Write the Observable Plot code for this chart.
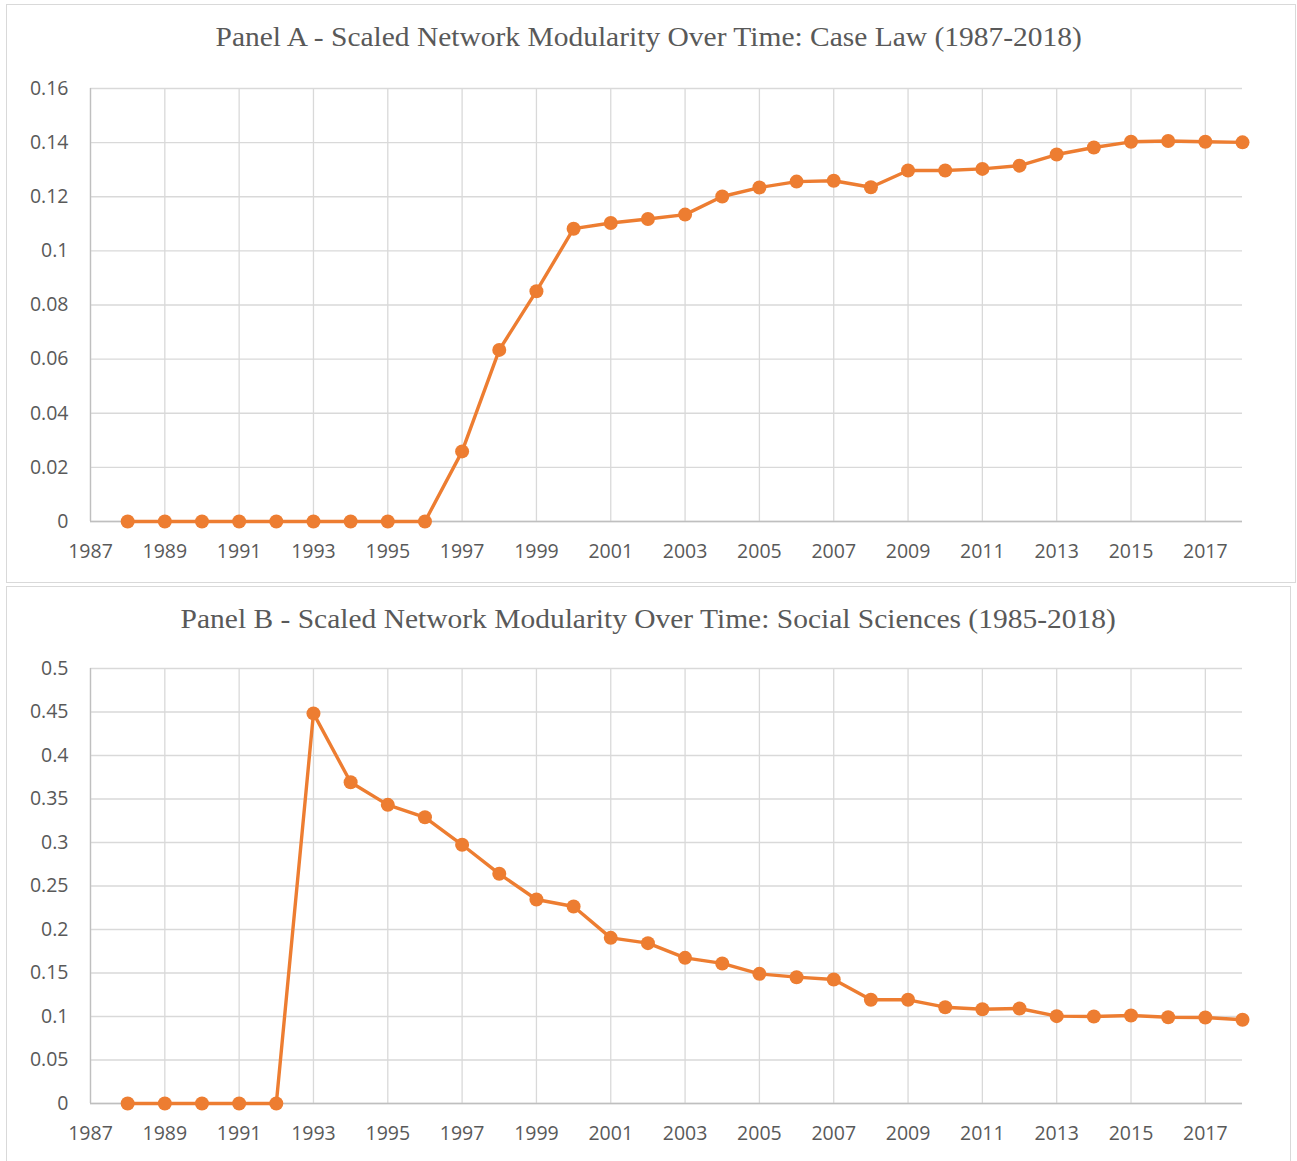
<!DOCTYPE html>
<html>
<head>
<meta charset="utf-8">
<script src="https://cdn.jsdelivr.net/npm/d3@7"></script>
<script src="https://cdn.jsdelivr.net/npm/@observablehq/plot@0.6"></script>
<style>
  body { margin: 0; background: #fff; }
  #root { position: relative; width: 1297px; height: 1161px; overflow: hidden; background: #fff; }
  .panel { position: absolute; border: 1.5px solid #d9d9d9; box-sizing: border-box; }
  .title { position: absolute; left: 0; width: 1297px; text-align: center; font-family: "Liberation Serif", "Times New Roman", serif; font-size: 27px; line-height: 27px; color: #595959; white-space: nowrap; }
  .title span { display: inline-block; transform: scaleX(1.092); transform-origin: center; }
  .chart { position: absolute; left: 0; }
</style>
</head>
<body>
<div id="root">
  <div class="panel" style="left:6px;top:4px;width:1290px;height:579px;"></div>
  <div class="panel" style="left:6px;top:586px;width:1285px;height:620px;"></div>
  <div class="title" style="top:24px;"><span>Panel A - Scaled Network Modularity Over Time: Case Law (1987-2018)</span></div>
  <div class="title" style="top:606px;"><span>Panel B - Scaled Network Modularity Over Time: Social Sciences (1985-2018)</span></div>
  <div class="chart" id="chartA" style="top:0px;"></div>
  <div class="chart" id="chartB" style="top:586px;"></div>
</div>
<script>
// ---- Data ----
const years = [1988, 1989, 1990, 1991, 1992, 1993, 1994, 1995, 1996, 1997, 1998, 1999, 2000, 2001, 2002, 2003, 2004, 2005, 2006, 2007, 2008, 2009, 2010, 2011, 2012, 2013, 2014, 2015, 2016, 2017, 2018];

const caseLaw = [0, 0, 0, 0, 0, 0, 0, 0, 0, 0.0259, 0.0634, 0.0851, 0.1082, 0.1103, 0.1118, 0.1134, 0.1201, 0.1234, 0.1256, 0.1259, 0.1235, 0.1297, 0.1297, 0.1303, 0.1315, 0.1356, 0.1382, 0.1403, 0.1406, 0.1403, 0.1401];

const socialSciences = [0, 0, 0, 0, 0, 0.4484, 0.3692, 0.3433, 0.329, 0.2974, 0.264, 0.2345, 0.2264, 0.1904, 0.1843, 0.1674, 0.161, 0.149, 0.1452, 0.1425, 0.1192, 0.1192, 0.1107, 0.1084, 0.1092, 0.1004, 0.1, 0.1011, 0.0992, 0.0989, 0.0962];

const xTickLabels = [1987, 1989, 1991, 1993, 1995, 1997, 1999, 2001, 2003, 2005, 2007, 2009, 2011, 2013, 2015, 2017];
const yTicksA = [0, 0.02, 0.04, 0.06, 0.08, 0.1, 0.12, 0.14, 0.16];
const yTicksB = [0, 0.05, 0.1, 0.15, 0.2, 0.25, 0.3, 0.35, 0.4, 0.45, 0.5];

const ORANGE = "#ED7D31";
const GRID = "#d9d9d9";
const AXIS = "#bfbfbf";
const TEXT = "#595959";

function makeChart(values, yTicks, yMax, opts) {
  const data = years.map((y, i) => ({year: y, value: values[i]}));
  return Plot.plot({
    width: 1297,
    height: opts.height,
    marginLeft: 90,
    marginRight: 55,
    marginTop: opts.marginTop,
    marginBottom: opts.marginBottom,
    style: {background: "transparent", color: TEXT, fontFamily: "'Open Sans', 'Liberation Sans', sans-serif", fontSize: "19.5px", overflow: "visible"},
    x: {type: "linear", domain: [1987, 2018]},
    y: {type: "linear", domain: [0, yMax]},
    marks: [
      Plot.gridX(xTickLabels, {stroke: GRID, strokeOpacity: 1, strokeWidth: 1.3}),
      Plot.gridY(yTicks, {stroke: GRID, strokeOpacity: 1, strokeWidth: 1.3}),
      Plot.ruleX([1987], {stroke: AXIS, strokeWidth: 1.3}),
      Plot.ruleY([0], {stroke: AXIS, strokeWidth: 1.5}),
      Plot.axisX(xTickLabels, {tickSize: 0, tickPadding: 23, tickFormat: d => String(d), label: null, fill: TEXT, fontSize: 19.5}),
      Plot.axisY(yTicks, {tickSize: 0, tickPadding: 22, tickFormat: d => String(d), label: null, fill: TEXT, fontSize: 19.5}),
      Plot.line(data, {x: "year", y: "value", stroke: ORANGE, strokeWidth: 3.4, curve: "linear"}),
      Plot.dot(data, {x: "year", y: "value", r: 7, fill: ORANGE, stroke: "none"})
    ]
  });
}

document.getElementById("chartA").appendChild(
  makeChart(caseLaw, yTicksA, 0.16, {height: 583, marginTop: 88, marginBottom: 62})
);
document.getElementById("chartB").appendChild(
  makeChart(socialSciences, yTicksB, 0.5, {height: 575, marginTop: 82, marginBottom: 58})
);
</script>
</body>
</html>
